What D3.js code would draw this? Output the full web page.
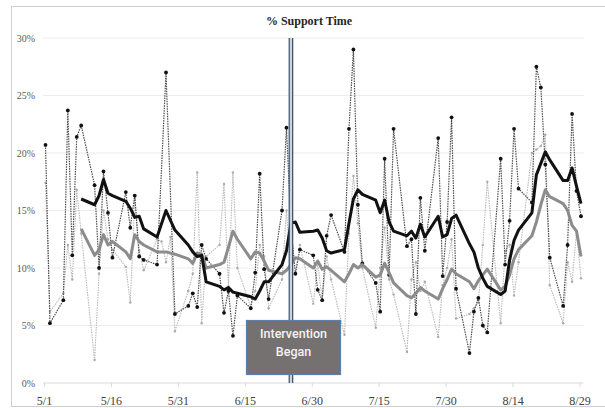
<!DOCTYPE html>
<html>
<head>
<meta charset="utf-8">
<script src="https://cdn.jsdelivr.net/npm/d3@7"></script>
<style>
  body { margin: 0; background: #fff; }
  svg { display: block; }
</style>
</head>
<body>
<svg id="chart" width="605" height="408"></svg>
<script>
/* DATA (2014, weekdays) */
var blackDates = ['5/1','5/2','5/5','5/6','5/7','5/8','5/9','5/12','5/13','5/14','5/15','5/16','5/19','5/20','5/21','5/22','5/23','5/26','5/28','5/30',
  '6/2','6/3','6/4','6/5','6/6','6/9','6/10','6/11','6/12','6/13','6/16','6/17','6/18','6/19','6/20','6/23','6/24','6/25','6/26','6/27','6/30',
  '7/1','7/2','7/3','7/4','7/7','7/8','7/9','7/10','7/11','7/14','7/15','7/16','7/17','7/18','7/21','7/22','7/23','7/24','7/25','7/28','7/29','7/30','7/31',
  '8/1','8/4','8/5','8/6','8/7','8/8','8/11','8/12','8/13','8/14','8/15','8/18','8/19','8/20','8/21','8/22','8/25','8/26','8/27','8/28','8/29'];
var blackValues = [20.7,5.2,7.2,23.7,11.1,21.4,22.4,17.2,10.0,18.4,14.8,10.9,16.6,13.5,16.3,11.0,10.7,10.3,27.0,6.0,
  6.7,7.8,6.6,12.0,10.8,9.5,6.1,8.0,4.1,7.6,6.5,9.6,18.2,9.9,7.3,15.0,22.2,13.6,9.5,11.6,11.1,
  8.1,7.2,12.8,14.6,11.4,22.1,29.0,15.5,10.4,8.7,6.2,19.5,9.4,22.1,11.9,12.5,6.0,16.1,11.5,21.3,9.3,14.0,23.1,
  8.2,2.6,6.2,7.4,5.0,4.4,19.5,10.3,14.1,22.1,16.9,15.7,27.5,25.7,19.0,10.9,6.7,12.0,23.4,16.7,14.5];

var grayDates = ['5/1','5/2','5/5','5/6','5/7','5/8','5/9','5/12','5/13','5/14','5/15','5/16','5/19','5/20','5/21','5/22','5/23','5/26','5/27','5/28','5/29','5/30',
  '6/2','6/3','6/4','6/5','6/6','6/9','6/10','6/11','6/12','6/13','6/16','6/17','6/18','6/19','6/20','6/23','6/24','6/25','6/26','6/27','6/30',
  '7/1','7/2','7/3','7/4','7/7','7/8','7/9','7/10','7/11','7/14','7/15','7/16','7/17','7/18','7/21','7/22','7/23','7/24','7/25','7/28','7/29','7/30','7/31',
  '8/1','8/4','8/5','8/6','8/7','8/8','8/11','8/12','8/13','8/14','8/15','8/18','8/19','8/20','8/21','8/22','8/25','8/26','8/27','8/28','8/29'];
var grayValues = [17.4,6.2,7.8,12.0,9.0,16.8,13.0,2.0,9.5,15.0,12.5,11.6,10.1,7.0,16.0,11.5,9.8,12.5,12.3,10.5,12.7,4.5,
  8.0,9.5,18.3,5.2,11.0,12.0,17.3,8.4,18.3,10.0,6.6,8.0,12.0,11.0,6.5,9.0,15.0,9.5,9.5,12.0,6.9,
  10.5,7.2,11.0,9.0,4.2,13.0,18.0,13.9,10.0,4.8,10.0,13.5,9.0,7.7,2.7,9.0,10.5,8.0,8.8,4.0,8.5,10.0,12.5,
  5.6,6.0,6.5,7.0,12.0,17.5,5.2,11.5,12.0,7.6,10.5,20.0,20.3,20.6,21.6,8.5,5.2,10.5,8.8,13.2,9.1];

var avgDates = ['5/9','5/12','5/13','5/14','5/15','5/16','5/19','5/20','5/21','5/22','5/23','5/26','5/28','5/30',
  '6/2','6/3','6/4','6/5','6/6','6/9','6/10','6/11','6/12','6/13','6/16','6/17','6/18','6/19','6/20','6/23','6/24','6/25','6/26','6/27','6/30',
  '7/1','7/2','7/3','7/4','7/7','7/8','7/9','7/10','7/11','7/14','7/15','7/16','7/17','7/18','7/21','7/22','7/23','7/24','7/25','7/28','7/29','7/30','7/31',
  '8/1','8/4','8/5','8/6','8/7','8/8','8/11','8/12','8/13','8/14','8/15','8/18','8/19','8/20','8/21','8/22','8/25','8/26','8/27','8/28','8/29'];
var blackAvg = [16.0,15.5,16.3,17.7,16.5,16.3,15.8,15.2,14.4,14.5,13.4,12.7,15.0,13.3,
  12.0,11.4,11.0,11.1,8.8,8.4,8.1,8.3,7.9,7.8,7.5,7.3,8.0,8.8,8.8,10.3,11.5,13.9,14.0,13.1,13.2,
  13.3,12.6,11.5,11.3,11.6,13.9,16.0,16.8,16.4,15.9,14.8,15.9,14.0,13.2,12.8,13.2,12.6,13.8,12.7,14.5,12.7,12.9,14.3,
  14.6,12.1,11.4,10.0,9.1,8.4,7.7,8.0,10.7,12.4,13.3,14.8,18.1,19.1,20.1,19.4,17.6,17.6,18.7,17.1,15.6];
var grayAvg = [13.4,11.1,11.6,12.9,12.0,12.3,11.4,10.8,12.9,12.3,12.0,11.4,11.4,11.2,
  10.8,10.4,11.3,11.2,10.0,10.3,10.5,11.8,13.2,12.5,10.8,11.4,11.3,10.6,9.8,9.5,9.8,10.3,10.9,10.8,10.0,
  10.6,9.9,10.1,9.8,8.8,9.5,10.3,10.0,10.3,9.2,9.4,10.4,9.6,8.7,7.6,7.4,7.8,8.3,8.0,7.3,8.2,9.0,9.9,
  9.5,8.8,8.2,8.9,9.4,9.9,8.1,8.4,9.4,10.8,11.6,12.8,14.0,15.5,16.8,16.2,15.6,15.0,13.7,13.2,11.0];

var xTicks = ['5/1','5/16','5/31','6/15','6/30','7/15','7/30','8/14','8/29'];
var yTicks = [0,5,10,15,20,25,30];
var interventionDate = '6/25';

/* HELPERS */
function toDate(s){
  var p = s.split('/');
  return new Date(2014, +p[0] - 1, +p[1]);
}
function pairs(dates, vals){
  return dates.map(function(d, i){ return { date: toDate(d), value: vals[i] }; });
}

var svg = d3.select('#chart');

/* FRAME */
svg.append('rect')
  .attr('x', 11.5).attr('y', 6.5)
  .attr('width', 600).attr('height', 400)
  .attr('fill', '#fff').attr('stroke', '#d0d0d0');

var x = d3.scaleTime().domain([toDate('5/1'), toDate('8/29')]).range([45.5, 581]);
var y = d3.scaleLinear().domain([0, 30]).range([383, 38]);

/* GRIDLINES */
svg.append('g').selectAll('line')
  .data(yTicks.filter(function(d){ return d > 0; })).enter().append('line')
  .attr('x1', 43).attr('x2', 584)
  .attr('y1', function(d){ return y(d); })
  .attr('y2', function(d){ return y(d); })
  .attr('stroke', '#ececec').attr('stroke-width', 1);

/* Y AXIS LABELS */
svg.append('g').selectAll('text')
  .data(yTicks).enter().append('text')
  .attr('x', 35)
  .attr('y', function(d){ return y(d) + 3.5; })
  .attr('text-anchor', 'end')
  .style('font', '10px "Liberation Serif", serif')
  .attr('fill', '#595959')
  .text(function(d){ return d + '%'; });

/* X AXIS */
var xAxis = svg.append('g').attr('transform', 'translate(-1.5,' + y(0) + ')')
  .call(d3.axisBottom(x).tickValues(xTicks.map(toDate)).tickSize(4).tickFormat(d3.timeFormat('%-m/%-d')));
xAxis.select('.domain').attr('stroke', '#d9d9d9').attr('d', 'M44.5,0H585');
xAxis.selectAll('.tick line').attr('stroke', '#d9d9d9');
xAxis.selectAll('.tick text')
  .attr('y', 13)
  .style('font', '12px "Liberation Serif", serif')
  .attr('fill', '#404040');

/* TITLE */
svg.append('text')
  .attr('x', 309).attr('y', 25)
  .attr('text-anchor', 'middle')
  .style('font', 'bold 12px "Liberation Serif", serif')
  .attr('fill', '#262626')
  .text('% Support Time');

var line = d3.line()
  .x(function(d){ return x(d.date); })
  .y(function(d){ return y(d.value); });

var grayData = pairs(grayDates, grayValues);
var blackData = pairs(blackDates, blackValues);

/* GRAY DOTTED SERIES */
svg.append('path').datum(grayData)
  .attr('d', line)
  .attr('fill', 'none')
  .attr('stroke', '#b8b8b8')
  .attr('stroke-width', 1.1)
  .attr('stroke-dasharray', '1.5,1');
svg.append('g').selectAll('circle')
  .data(grayData).enter().append('circle')
  .attr('cx', function(d){ return x(d.date); })
  .attr('cy', function(d){ return y(d.value); })
  .attr('r', 1.2)
  .attr('fill', '#ababab');

/* BLACK DOTTED SERIES */
svg.append('path').datum(blackData)
  .attr('d', line)
  .attr('fill', 'none')
  .attr('stroke', '#4d4d4d')
  .attr('stroke-width', 1.2)
  .attr('stroke-dasharray', '1.5,1');
svg.append('g').selectAll('circle')
  .data(blackData).enter().append('circle')
  .attr('cx', function(d){ return x(d.date); })
  .attr('cy', function(d){ return y(d.value); })
  .attr('r', 1.9)
  .attr('fill', '#111');

/* MOVING AVERAGE LINES */
svg.append('path').datum(pairs(avgDates, grayAvg))
  .attr('d', line)
  .attr('fill', 'none')
  .attr('stroke', '#8c8c8c')
  .attr('stroke-width', 3)
  .attr('stroke-linejoin', 'round');
svg.append('path').datum(pairs(avgDates, blackAvg))
  .attr('d', line)
  .attr('fill', 'none')
  .attr('stroke', '#111')
  .attr('stroke-width', 3)
  .attr('stroke-linejoin', 'round');

/* INTERVENTION LINE (double) */
var ix = x(toDate(interventionDate));
[-1.7, 1.7].forEach(function(off){
  svg.append('line')
    .attr('x1', ix + off).attr('x2', ix + off)
    .attr('y1', y(30)).attr('y2', y(0))
    .attr('stroke', '#44546a').attr('stroke-width', 1.3);
});
svg.append('line')
  .attr('x1', ix).attr('x2', ix)
  .attr('y1', y(30)).attr('y2', y(0))
  .attr('stroke', '#c9d3e0').attr('stroke-width', 2);

/* INTERVENTION BOX (covers the line) */
svg.append('rect')
  .attr('x', 246.5).attr('y', 320.5)
  .attr('width', 94).attr('height', 54)
  .attr('fill', '#767171')
  .attr('stroke', '#5b7fa8').attr('stroke-width', 1.2);
svg.append('text')
  .attr('x', 293.5).attr('y', 338)
  .attr('text-anchor', 'middle')
  .style('font', '500 12.5px Roboto, sans-serif')
  .attr('fill', '#f2f2f2')
  .text('Intervention');
svg.append('text')
  .attr('x', 293.5).attr('y', 356)
  .attr('text-anchor', 'middle')
  .style('font', '500 12.5px Roboto, sans-serif')
  .attr('fill', '#f2f2f2')
  .text('Began');
</script>
</body>
</html>
